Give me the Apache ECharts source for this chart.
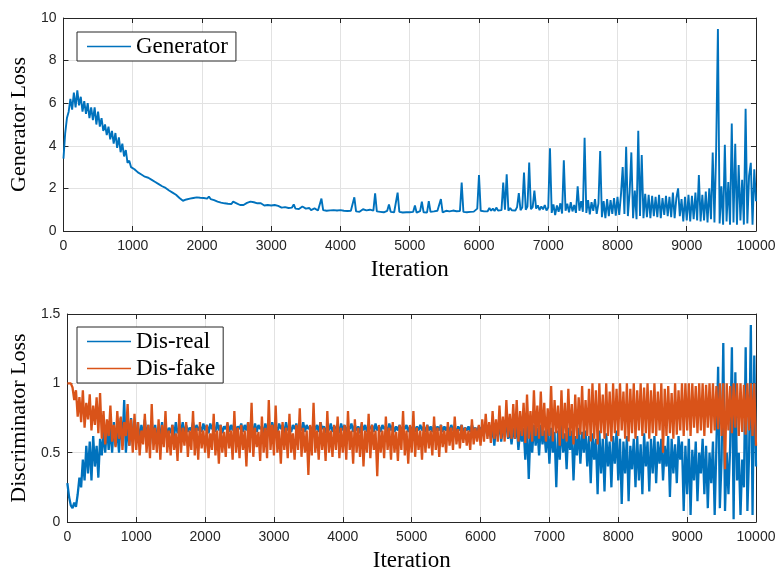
<!DOCTYPE html>
<html>
<head>
<meta charset="utf-8">
<script src="https://cdn.jsdelivr.net/npm/echarts@6/dist/echarts.min.js"></script>
<style>html,body{margin:0;padding:0;background:#fff}#c{width:779px;height:573px}</style>
</head>
<body>
<div id="c"></div>
<script>
// Iteration step between successive samples
const STEP = 25;
const xTicks = [0,1000,2000,3000,4000,5000,6000,7000,8000,9000,10000];
const genTicks = [0,2,4,6,8,10];
const disTicks = [0,0.5,1,1.5];

// Generator loss, one value every 25 iterations (0 .. 10000)
const generator = [
3.4,4.6,5.3,5.6,6.2,5.7,6.5,5.8,6.6,5.9,6.3,5.6,6.1,5.5,6.0,5.3,5.8,5.2,5.8,5.0,
5.6,4.9,5.3,4.7,5.0,4.5,4.9,4.3,4.7,4.1,4.6,3.9,4.4,3.7,4.1,3.5,3.8,3.2,3.3,3.0,
3.05,2.9,2.85,2.75,2.8,2.65,2.7,2.55,2.6,2.5,2.52,2.4,2.45,2.3,2.32,2.2,2.22,2.1,2.12,2.02,
1.98,1.9,1.88,1.8,1.76,1.7,1.65,1.55,1.52,1.42,1.38,1.48,1.45,1.52,1.5,1.55,1.52,1.58,1.65,1.56,
1.6,1.55,1.58,1.52,1.62,1.5,1.55,1.45,1.42,1.38,1.4,1.33,1.36,1.3,1.33,1.28,1.32,1.27,1.38,1.3,
1.3,1.26,1.22,1.18,1.22,1.28,1.32,1.25,1.38,1.3,1.35,1.28,1.3,1.24,1.3,1.22,1.2,1.18,1.22,1.17,
1.2,1.16,1.22,1.15,1.18,1.12,1.1,1.06,1.12,1.05,1.08,1.03,1.1,1.25,1.05,1.08,1.03,1.1,1.15,1.06,
1.05,1.02,1.08,0.98,1.02,1.06,1.0,0.96,1.04,1.52,0.98,1.0,0.95,1.02,0.97,1.05,0.98,1.03,0.96,1.0,
0.98,1.02,0.95,0.99,0.94,0.97,0.95,1.0,1.58,0.92,0.96,0.9,0.94,1.02,0.93,0.97,0.91,1.0,0.94,0.96,
1.77,0.92,0.95,0.9,0.93,0.88,0.92,0.95,1.25,0.9,0.94,0.88,0.92,1.8,0.9,0.93,0.87,0.91,0.88,0.9,
0.88,0.85,0.9,1.2,0.86,0.89,0.93,1.38,0.88,0.92,0.87,1.4,0.9,0.86,0.92,0.88,0.95,0.9,1.5,0.88,
0.9,0.95,0.87,0.92,0.89,0.96,0.88,0.93,0.9,0.94,2.27,0.9,0.95,0.88,0.93,0.9,0.97,0.91,0.95,1.05,
2.63,0.95,1.02,0.92,1.0,0.93,1.08,0.95,1.05,0.94,1.1,0.96,1.02,0.98,2.27,1.0,2.66,0.95,1.08,0.97,
1.05,0.96,1.12,1.78,0.98,1.1,2.74,1.0,1.15,3.22,1.02,1.12,1.9,1.05,1.2,0.98,1.15,1.02,1.22,0.96,
1.1,3.88,0.85,1.25,0.75,1.2,0.9,1.3,0.82,3.32,0.95,1.28,0.88,1.35,0.92,1.22,0.85,2.1,0.95,1.4,
0.9,4.38,0.85,1.45,0.78,1.35,0.95,1.5,0.8,1.3,3.76,0.65,1.4,0.6,1.5,0.7,1.45,0.8,1.55,0.72,
1.6,0.75,1.7,3.0,0.8,3.96,0.7,1.8,3.69,0.6,1.9,0.55,4.71,0.7,3.57,0.6,1.75,0.65,1.7,0.6,
1.65,0.7,1.6,0.65,1.7,0.6,1.55,0.75,1.65,0.7,1.6,0.65,1.8,0.6,1.55,2.0,0.7,1.5,0.45,1.6,
0.5,1.7,0.45,1.65,0.55,1.8,0.5,2.63,0.45,1.7,0.5,1.85,0.4,2.0,0.55,3.69,0.4,3.88,9.48,0.35,
2.1,0.3,4.05,0.45,2.3,0.3,5.05,0.4,4.1,0.3,3.1,0.5,2.4,0.3,5.74,0.35,2.6,3.2,0.3,2.9,
1.4
];

// Discriminator loss on real samples, one value every 25 iterations
const disReal = [
0.28,0.18,0.12,0.1,0.14,0.11,0.2,0.32,0.25,0.45,0.3,0.55,0.35,0.58,0.3,0.62,0.4,0.55,0.32,0.6,
0.48,0.65,0.5,0.7,0.52,0.68,0.5,0.72,0.55,0.66,0.5,0.75,0.55,0.88,0.5,0.7,0.55,0.75,0.58,0.7,
0.6,0.72,0.58,0.7,0.62,0.74,0.6,0.7,0.56,0.72,0.62,0.7,0.6,0.68,0.62,0.72,0.6,0.7,0.63,0.68,
0.64,0.7,0.62,0.72,0.64,0.68,0.65,0.72,0.63,0.7,0.65,0.68,0.66,0.72,0.64,0.7,0.66,0.69,0.65,0.71,
0.66,0.7,0.64,0.71,0.67,0.69,0.65,0.72,0.66,0.7,0.64,0.69,0.67,0.71,0.65,0.7,0.66,0.72,0.64,0.69,
0.67,0.71,0.65,0.7,0.66,0.72,0.64,0.69,0.66,0.71,0.65,0.7,0.67,0.69,0.64,0.71,0.66,0.7,0.65,0.72,
0.66,0.69,0.65,0.71,0.67,0.7,0.64,0.72,0.66,0.69,0.65,0.7,0.67,0.71,0.64,0.69,0.66,0.72,0.65,0.7,
0.67,0.69,0.64,0.71,0.66,0.7,0.65,0.72,0.67,0.69,0.64,0.7,0.66,0.71,0.65,0.69,0.67,0.7,0.64,0.71,
0.66,0.7,0.65,0.69,0.67,0.71,0.65,0.7,0.66,0.69,0.64,0.71,0.66,0.7,0.65,0.69,0.67,0.7,0.65,0.71,
0.66,0.69,0.65,0.7,0.67,0.69,0.65,0.71,0.66,0.7,0.65,0.69,0.66,0.7,0.65,0.69,0.67,0.7,0.65,0.69,
0.66,0.7,0.65,0.69,0.66,0.7,0.66,0.69,0.65,0.7,0.66,0.69,0.65,0.7,0.66,0.69,0.66,0.7,0.65,0.69,
0.66,0.69,0.65,0.7,0.66,0.68,0.65,0.69,0.66,0.7,0.65,0.68,0.66,0.69,0.65,0.7,0.66,0.68,0.65,0.69,
0.66,0.69,0.65,0.68,0.62,0.7,0.6,0.68,0.55,0.69,0.62,0.7,0.58,0.68,0.64,0.7,0.6,0.67,0.56,0.68,
0.6,0.7,0.52,0.66,0.58,0.68,0.45,0.7,0.31,0.66,0.5,0.7,0.55,0.68,0.48,0.7,0.56,0.66,0.5,0.68,
0.42,0.68,0.5,0.65,0.25,0.66,0.45,0.7,0.5,0.64,0.38,0.68,0.52,0.66,0.3,0.62,0.48,0.68,0.42,0.65,
0.5,0.66,0.4,0.62,0.28,0.64,0.45,0.6,0.2,0.66,0.35,0.6,0.22,0.64,0.4,0.58,0.25,0.62,0.42,0.66,
0.3,0.6,0.13,0.58,0.35,0.62,0.15,0.55,0.38,0.6,0.25,0.62,0.3,0.56,0.2,0.64,0.4,0.58,0.22,0.6,
0.35,0.62,0.28,0.58,0.42,0.6,0.3,0.55,0.4,0.62,0.18,0.6,0.35,0.56,0.28,0.62,0.45,0.58,0.08,0.55,
0.2,0.6,0.05,0.52,0.3,0.58,0.15,0.5,0.35,0.6,0.2,0.55,0.1,0.5,0.28,0.58,0.05,0.55,1.12,0.1,
0.45,1.29,0.08,0.5,0.2,0.55,1.26,0.02,1.08,0.3,0.5,0.05,0.45,0.25,1.26,0.08,0.5,1.42,0.05,1.2,
0.4
];

// Discriminator loss on fake samples, one value every 25 iterations
const disFake = [
1.0,0.99,1.0,0.97,0.88,0.95,0.76,0.9,0.72,0.95,0.68,0.86,0.74,0.92,0.66,0.84,0.7,0.9,0.64,0.93,
0.6,0.8,0.56,0.74,0.62,0.84,0.58,0.7,0.54,0.8,0.6,0.76,0.52,0.72,0.62,0.85,0.55,0.74,0.5,0.78,
0.52,0.72,0.48,0.66,0.56,0.78,0.5,0.7,0.46,0.85,0.52,0.68,0.5,0.74,0.45,0.7,0.54,0.8,0.5,0.66,
0.48,0.7,0.52,0.64,0.44,0.78,0.5,0.68,0.55,0.72,0.47,0.66,0.52,0.8,0.48,0.68,0.45,0.72,0.53,0.66,
0.5,0.7,0.46,0.64,0.52,0.78,0.48,0.66,0.42,0.7,0.5,0.65,0.47,0.72,0.53,0.66,0.45,0.8,0.5,0.68,
0.46,0.7,0.52,0.66,0.4,0.72,0.5,0.86,0.47,0.68,0.54,0.65,0.44,0.76,0.5,0.68,0.46,0.88,0.52,0.7,
0.48,0.84,0.5,0.66,0.42,0.72,0.52,0.68,0.46,0.78,0.5,0.64,0.45,0.7,0.52,0.82,0.47,0.68,0.5,0.66,
0.34,0.7,0.48,0.86,0.5,0.66,0.45,0.72,0.52,0.68,0.44,0.8,0.5,0.66,0.47,0.7,0.52,0.76,0.46,0.68,
0.5,0.7,0.45,0.8,0.52,0.66,0.42,0.74,0.5,0.68,0.47,0.72,0.4,0.66,0.5,0.78,0.46,0.7,0.52,0.66,
0.33,0.7,0.5,0.66,0.46,0.76,0.52,0.68,0.45,0.72,0.5,0.65,0.44,0.7,0.52,0.8,0.48,0.66,0.42,0.7,
0.5,0.8,0.47,0.68,0.52,0.66,0.45,0.72,0.5,0.7,0.53,0.66,0.48,0.76,0.52,0.68,0.47,0.7,0.54,0.66,
0.5,0.72,0.55,0.68,0.52,0.76,0.56,0.67,0.53,0.7,0.57,0.68,0.55,0.66,0.52,0.74,0.56,0.68,0.58,0.7,
0.55,0.74,0.58,0.78,0.6,0.72,0.57,0.8,0.6,0.74,0.58,0.84,0.6,0.76,0.58,0.88,0.61,0.78,0.6,0.85,
0.6,0.88,0.58,0.8,0.62,0.86,0.57,0.92,0.6,0.8,0.58,0.95,0.62,0.84,0.6,0.94,0.62,0.86,0.58,0.82,
0.62,0.98,0.58,0.88,0.64,0.84,0.55,0.95,0.6,0.86,0.58,0.96,0.62,0.85,0.56,0.92,0.6,0.9,0.63,0.98,
0.6,0.88,0.62,0.96,0.58,1.0,0.6,0.95,0.56,1.0,0.64,0.92,0.6,1.0,0.62,0.94,0.58,1.0,0.64,0.96,
0.62,1.0,0.66,0.94,0.6,1.0,0.58,0.96,0.64,1.0,0.6,0.95,0.66,1.0,0.62,0.97,0.64,1.0,0.6,0.95,
0.64,1.0,0.62,0.94,0.66,1.0,0.5,0.96,0.62,0.98,0.64,0.93,0.6,1.0,0.63,0.95,0.66,1.0,0.62,1.0,
0.66,1.0,0.62,1.0,0.68,0.98,0.64,1.0,0.66,1.0,0.62,0.99,0.68,1.0,0.64,1.0,0.66,0.98,0.67,1.0,
0.62,1.0,0.38,1.0,0.66,0.98,0.64,1.0,0.68,1.0,0.62,1.0,0.65,0.99,0.63,1.0,0.66,1.0,0.62,1.0,
0.55
];

const BLUE = '#0072BD', ORANGE = '#D95319', INK = '#262626';
const toXY = arr => arr.map((v, i) => [i * STEP, v]);

const sans = 'Liberation Sans, Arial, sans-serif';
const serif = 'Liberation Serif, Times New Roman, serif';
const plain = v => String(v);

function xMain(g) {
  return {
    gridIndex: g, type: 'value', position: 'bottom',
    min: xTicks[0], max: xTicks[xTicks.length - 1], interval: xTicks[1] - xTicks[0],
    axisLine: { show: true, onZero: false, lineStyle: { color: INK, width: 1 } },
    axisTick: { show: true, inside: true, length: 5, lineStyle: { color: INK } },
    axisLabel: { show: true, fontFamily: sans, fontSize: 14, color: INK, margin: 8, formatter: plain },
    splitLine: { show: true, lineStyle: { color: '#e2e2e2', width: 1 } },
    name: 'Iteration', nameLocation: 'middle', nameGap: 27,
    nameTextStyle: { fontFamily: serif, fontSize: 23, color: '#000' }
  };
}
function xTop(g) {
  return {
    gridIndex: g, type: 'value', position: 'top',
    min: xTicks[0], max: xTicks[xTicks.length - 1], interval: xTicks[1] - xTicks[0],
    axisLine: { show: true, onZero: false, lineStyle: { color: INK, width: 1 } },
    axisTick: { show: true, inside: true, length: 5, lineStyle: { color: INK } },
    axisLabel: { show: false }, splitLine: { show: false }
  };
}
function yMain(g, ticks, name) {
  return {
    gridIndex: g, type: 'value', position: 'left',
    min: ticks[0], max: ticks[ticks.length - 1], interval: ticks[1] - ticks[0],
    axisLine: { show: true, onZero: false, lineStyle: { color: INK, width: 1 } },
    axisTick: { show: true, inside: true, length: 5, lineStyle: { color: INK } },
    axisLabel: { show: true, fontFamily: sans, fontSize: 14, color: INK, margin: 7, formatter: plain },
    splitLine: { show: true, lineStyle: { color: '#e2e2e2', width: 1 } },
    name: name, nameLocation: 'middle', nameGap: 30,
    nameTextStyle: { fontFamily: serif, fontSize: 22, color: '#000' }
  };
}
function yRight(g, ticks) {
  return {
    gridIndex: g, type: 'value', position: 'right',
    min: ticks[0], max: ticks[ticks.length - 1], interval: ticks[1] - ticks[0],
    axisLine: { show: true, onZero: false, lineStyle: { color: INK, width: 1 } },
    axisTick: { show: true, inside: true, length: 5, lineStyle: { color: INK } },
    axisLabel: { show: false }, splitLine: { show: false }
  };
}
function line(name, data, color, xi, yi, w) {
  return {
    name: name, type: 'line', xAxisIndex: xi, yAxisIndex: yi,
    data: toXY(data), showSymbol: false, symbol: 'none', sampling: null,
    lineStyle: { color: color, width: w, join: 'bevel' }, itemStyle: { color: color },
    animation: false, silent: true
  };
}
const legendBase = {
  orient: 'vertical', left: 77, backgroundColor: '#fff', borderColor: INK, borderWidth: 1,
  borderRadius: 0, icon: 'rect', itemWidth: 44, itemHeight: 1.5, itemGap: 4,
  textStyle: { fontFamily: serif, fontSize: 23, color: '#000' }
};

const chart = echarts.init(document.getElementById('c'), null, { renderer: 'canvas' });
chart.setOption({
  animation: false,
  backgroundColor: '#fff',
  grid: [
    { left: 62, right: 23, top: 18, height: 213 },
    { left: 62, right: 23, top: 314, height: 212 }
  ],
  xAxis: [xMain(0), xTop(0), xMain(1), xTop(1)],
  yAxis: [yMain(0, genTicks, 'Generator Loss'), yRight(0, genTicks),
          yMain(1, disTicks, 'Discriminator Loss'), yRight(1, disTicks)],
  legend: [
    Object.assign({}, legendBase, { top: 32, data: ['Generator'], padding: [3, 8, 3, 10] }),
    Object.assign({}, legendBase, { top: 327, data: ['Dis-real', 'Dis-fake'], padding: [3, 8, 3, 10] })
  ],
  series: [
    line('Generator', generator, BLUE, 0, 0, 1.9),
    line('Dis-real', disReal, BLUE, 2, 2, 2.3),
    line('Dis-fake', disFake, ORANGE, 2, 2, 2.3)
  ]
});
</script>
</body>
</html>
